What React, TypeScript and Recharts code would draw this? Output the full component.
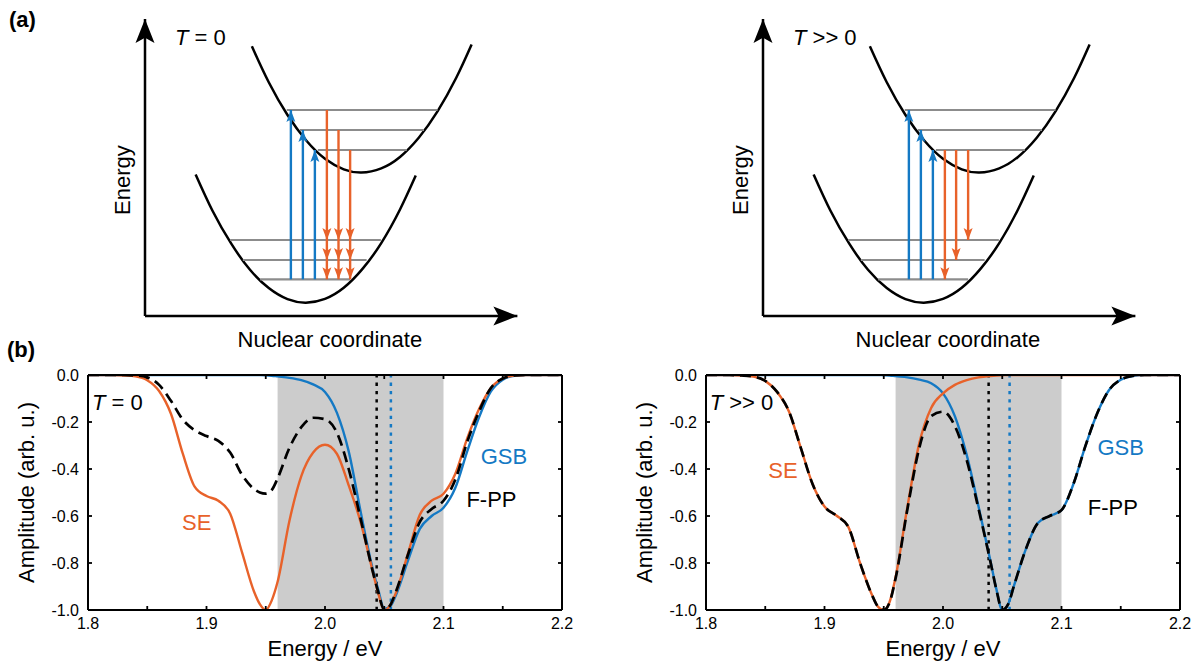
import React from 'react';
import {
  ComposedChart,
  Line,
  XAxis,
  YAxis,
  ReferenceArea,
  ReferenceLine,
  ReferenceDot,
  Label,
} from 'recharts';

const FONT = '"Liberation Sans", Arial, Helvetica, sans-serif';
const ORANGE = '#E8622A';
const BLUE = '#1479C4';
const BAND_GRAY = '#CCCCCC';
const LEVEL_GRAY = '#8C8C8C';

// ---------------- Panel (b): spectra ----------------
const energies = [
  1.8, 1.81, 1.82, 1.83, 1.84, 1.85, 1.86, 1.87, 1.88, 1.89, 1.9, 1.91, 1.92, 1.93, 1.94,
  1.945, 1.95, 1.955, 1.96, 1.97, 1.98, 1.99, 2.0, 2.01, 2.02, 2.03, 2.04, 2.045, 2.05, 2.055,
  2.06, 2.07, 2.08, 2.09, 2.1, 2.11, 2.12, 2.13, 2.14, 2.15, 2.16, 2.17, 2.18, 2.19, 2.2,
];

const seT0 = [
  0, 0, 0, -0.002, -0.006, -0.022, -0.068, -0.165, -0.335, -0.475, -0.515, -0.535, -0.59, -0.755, -0.92,
  -0.975, -1.0, -0.96, -0.88, -0.62, -0.43, -0.33, -0.297, -0.335, -0.47, -0.625, -0.83, -0.93, -1.0, -0.98,
  -0.925, -0.76, -0.595, -0.535, -0.505, -0.42, -0.27, -0.145, -0.055, -0.015, -0.002, 0, 0, 0, 0,
];
const gsbT0 = [
  0, 0, 0, 0, 0, 0, 0, 0, 0, 0, 0, 0, 0, 0, 0,
  0, -0.001, -0.003, -0.006, -0.012, -0.022, -0.04, -0.072, -0.16, -0.325, -0.58, -0.82, -0.915, -0.995, -0.985,
  -0.935, -0.79, -0.655, -0.6, -0.565, -0.48, -0.325, -0.18, -0.07, -0.02, -0.003, 0, 0, 0, 0,
];
const fppT0 = [
  0, 0, 0, 0, -0.002, -0.01, -0.042, -0.11, -0.19, -0.235, -0.26, -0.28, -0.33, -0.425, -0.485,
  -0.5, -0.505, -0.49, -0.44, -0.31, -0.222, -0.182, -0.188, -0.245, -0.4, -0.61, -0.83, -0.925, -1.0, -0.98,
  -0.92, -0.765, -0.625, -0.57, -0.535, -0.445, -0.285, -0.155, -0.055, -0.015, -0.002, 0, 0, 0, 0,
];

const seTh = [
  0, 0, 0, -0.002, -0.007, -0.025, -0.072, -0.155, -0.31, -0.465, -0.56, -0.598, -0.645, -0.8, -0.935,
  -0.985, -1.0, -0.965, -0.86, -0.56, -0.29, -0.14, -0.078, -0.042, -0.022, -0.01, -0.004, -0.002, -0.001, 0,
  0, 0, 0, 0, 0, 0, 0, 0, 0, 0, 0, 0, 0, 0, 0,
];
const gsbTh = [
  0, 0, 0, 0, 0, 0, 0, 0, 0, 0, 0, 0, 0, 0, 0,
  0, -0.001, -0.002, -0.005, -0.01, -0.02, -0.035, -0.078, -0.175, -0.34, -0.56, -0.79, -0.91, -1.0, -0.975,
  -0.895, -0.74, -0.63, -0.6, -0.575, -0.465, -0.305, -0.165, -0.065, -0.02, -0.004, 0, 0, 0, 0,
];
const fppTh = [
  0, 0, 0, -0.002, -0.007, -0.025, -0.072, -0.155, -0.31, -0.465, -0.56, -0.598, -0.645, -0.8, -0.935,
  -0.985, -1.0, -0.967, -0.865, -0.57, -0.31, -0.175, -0.156, -0.217, -0.362, -0.57, -0.794, -0.912, -1.0, -0.975,
  -0.895, -0.74, -0.63, -0.6, -0.575, -0.465, -0.305, -0.165, -0.065, -0.02, -0.004, 0, 0, 0, 0,
];

const xLabelTicks = [1.8, 1.9, 2.0, 2.1, 2.2];
const xFrameTicks = [1.8, 1.85, 1.9, 1.95, 2.0, 2.05, 2.1, 2.15, 2.2];
const yTicks = [0, -0.2, -0.4, -0.6, -0.8, -1.0];
const bandRange = [1.96, 2.1];
const dottedT0 = [2.0436, 2.0556]; // [F-PP peak (black), GSB peak (blue)]
const dottedTh = [2.0385, 2.0562];

// annotation anchors [energy, amplitude] (text baseline)
const annT0 = { temp: [1.8034, -0.149], se: [1.8917, -0.658], gsb: [2.151, -0.379], fpp: [2.1405, -0.562] };
const annTh = { temp: [1.8031, -0.149], se: [1.865, -0.438], gsb: [2.1499, -0.34], fpp: [2.1434, -0.596] };

// ---------------- Panel (a): potential-energy diagrams ----------------
const upperWellX = [2.85, 3.3, 3.8, 4.3, 4.8, 5.3, 5.77, 6.3, 6.8, 7.3, 7.8, 8.3, 8.71];
const upperWellY = [8.99, 7.79, 6.7, 5.85, 5.24, 4.89, 4.78, 4.92, 5.3, 5.94, 6.82, 7.94, 9.05];
const lowerWellX = [1.35, 1.8, 2.3, 2.8, 3.3, 3.8, 4.29, 4.8, 5.3, 5.8, 6.3, 6.8, 7.22];
const lowerWellY = [4.72, 3.51, 2.41, 1.54, 0.93, 0.56, 0.443, 0.57, 0.94, 1.57, 2.43, 3.55, 4.68];

const upperLevelE = [6.867, 6.2, 5.533];
const upperLevelFrom = [3.78, 4.13, 4.61];
const upperLevelTo = [7.8, 7.44, 6.98];
const lowerLevelE = [2.533, 1.867, 1.223];
const lowerLevelFrom = [2.27, 2.61, 3.07];
const lowerLevelTo = [6.29, 5.91, 5.47];

const absorptionX = [3.89, 4.21, 4.53];
const emissionXT0 = [4.85, 5.16, 5.47];
const emissionXTh = [4.85, 5.15, 5.47];

const energyAxisTop = 9.9;
const coordAxisEnd = 9.93;

// ---------------- helpers ----------------
type Pt = { x: number; y: number; head?: string };

function headPoints(cx: number, cy: number, dir: string, len: number, wid: number) {
  const n = len * 0.22;
  const h = wid / 2;
  let pts: number[][];
  if (dir === 'up') pts = [[cx, cy], [cx + h, cy + len], [cx, cy + len - n], [cx - h, cy + len]];
  else if (dir === 'down') pts = [[cx, cy], [cx + h, cy - len], [cx, cy - len + n], [cx - h, cy - len]];
  else pts = [[cx, cy], [cx - len, cy - h], [cx - len + n, cy], [cx - len, cy + h]];
  return pts.map((p) => p.join(',')).join(' ');
}

function headDot(color: string, len: number, wid: number) {
  return (p: any) => {
    const k = `hd-${p.index}-${p.cx}-${p.cy}`;
    if (!p.payload || !p.payload.head || p.cx == null || p.cy == null) return <g key={k} />;
    return <polygon key={k} points={headPoints(p.cx, p.cy, p.payload.head, len, wid)} fill={color} stroke="none" />;
  };
}

function seg(key: string, data: Pt[], color: string, width: number, heads?: { len: number; wid: number }) {
  return (
    <Line
      key={key}
      data={data}
      dataKey="y"
      type="linear"
      stroke={color}
      strokeWidth={width}
      dot={heads ? headDot(color, heads.len, heads.wid) : false}
      activeDot={false}
      isAnimationActive={false}
    />
  );
}

function textDot(
  key: string,
  x: number,
  y: number,
  content: React.ReactNode,
  opts: { color?: string; size?: number; anchor?: string; rotate?: boolean; baseline?: string; xId?: string; yId?: string }
) {
  const extra: any = {};
  if (opts.xId) extra.xAxisId = opts.xId;
  if (opts.yId) extra.yAxisId = opts.yId;
  return (
    <ReferenceDot
      key={key}
      {...extra}
      x={x}
      y={y}
      r={0}
      ifOverflow="visible"
      fill="none"
      stroke="none"
      shape={(p: any) => (
        <text
          x={p.cx}
          y={p.cy}
          textAnchor={opts.anchor || 'middle'}
          dominantBaseline={opts.baseline || 'auto'}
          fill={opts.color || '#000'}
          fontSize={opts.size || 22}
          fontFamily={FONT}
          transform={opts.rotate ? `rotate(-90 ${p.cx} ${p.cy})` : undefined}
        >
          {content}
        </text>
      )}
    />
  );
}

// ---------------- Diagram ----------------
function Diagram({ left, tempLabel, emission }: { left: number; tempLabel: string; emission: 'T0' | 'Th' }) {
  const upper = upperWellX.map((x, i) => ({ x, y: upperWellY[i] }));
  const lower = lowerWellX.map((x, i) => ({ x, y: lowerWellY[i] }));
  const lines: React.ReactNode[] = [];

  upperLevelE.forEach((e, i) =>
    lines.push(seg(`ul${i}`, [{ x: upperLevelFrom[i], y: e }, { x: upperLevelTo[i], y: e }], LEVEL_GRAY, 2.2))
  );
  lowerLevelE.forEach((e, i) =>
    lines.push(seg(`ll${i}`, [{ x: lowerLevelFrom[i], y: e }, { x: lowerLevelTo[i], y: e }], LEVEL_GRAY, 2.2))
  );

  absorptionX.forEach((x, i) =>
    lines.push(
      seg(`ab${i}`, [{ x, y: lowerLevelE[2] }, { x, y: upperLevelE[i], head: 'up' }], BLUE, 2.4, { len: 12, wid: 9 })
    )
  );

  if (emission === 'T0') {
    emissionXT0.forEach((x, i) =>
      lines.push(
        seg(
          `em${i}`,
          [
            { x, y: upperLevelE[i] },
            { x, y: lowerLevelE[0], head: 'down' },
            { x, y: lowerLevelE[1], head: 'down' },
            { x, y: lowerLevelE[2], head: 'down' },
          ],
          ORANGE,
          2.4,
          { len: 12, wid: 9 }
        )
      )
    );
  } else {
    emissionXTh.forEach((x, i) =>
      lines.push(
        seg(`em${i}`, [{ x, y: upperLevelE[2] }, { x, y: lowerLevelE[2 - i], head: 'down' }], ORANGE, 2.4, {
          len: 12,
          wid: 9,
        })
      )
    );
  }

  return (
    <div style={{ position: 'absolute', left, top: 0, width: 450, height: 360 }}>
      <ComposedChart width={450} height={360} margin={{ top: 16, right: 25, bottom: 44, left: 50 }}>
        <XAxis dataKey="x" type="number" domain={[0, 10]} hide />
        <YAxis type="number" domain={[0, 10]} hide />
        <Line data={upper} dataKey="y" type="natural" stroke="#000" strokeWidth={2.5} dot={false} activeDot={false} isAnimationActive={false} />
        <Line data={lower} dataKey="y" type="natural" stroke="#000" strokeWidth={2.5} dot={false} activeDot={false} isAnimationActive={false} />
        {lines}
        {seg('yaxis', [{ x: 0, y: 0 }, { x: 0, y: energyAxisTop, head: 'up' }], '#000', 2.5, { len: 24, wid: 19 })}
        {seg('xaxis', [{ x: 0, y: 0 }, { x: coordAxisEnd, y: 0, head: 'right' }], '#000', 2.5, { len: 24, wid: 19 })}
        {textDot(
          'temp',
          0.8,
          9.03,
          <>
            <tspan fontStyle="italic">T</tspan>
            {tempLabel}
          </>,
          { anchor: 'start' }
        )}
        {textDot('ylab', -0.61, 4.53, 'Energy', { rotate: true, baseline: 'central' })}
        {textDot('xlab', 4.93, -0.77, 'Nuclear coordinate', { baseline: 'central' })}
      </ComposedChart>
    </div>
  );
}

// ---------------- Spectrum ----------------
function Spectrum({
  left,
  width,
  se,
  gsb,
  fpp,
  dotted,
  ann,
  tempLabel,
}: {
  left: number;
  width: number;
  se: number[];
  gsb: number[];
  fpp: number[];
  dotted: number[];
  ann: any;
  tempLabel: string;
}) {
  const rows = energies.map((e, i) => ({ e, se: se[i], gsb: gsb[i], fpp: fpp[i] }));
  const frameLine = { stroke: '#000', strokeWidth: 2 };
  const frameTick = { stroke: '#000', strokeWidth: 1.8 };
  const hiddenTick = { fill: 'none', fontSize: 1 };
  const tickFont = { fill: '#000', fontSize: 16, fontFamily: FONT };
  const ids = { xId: 'lab', yId: 'lab' };
  return (
    <div style={{ position: 'absolute', left, top: 360, width, height: 301 }}>
      <ComposedChart width={width} height={301} data={rows} margin={{ top: 15, right: width - 88 - 474, bottom: 0, left: 0 }}>
        <XAxis
          xAxisId="lab"
          dataKey="e"
          type="number"
          domain={[1.8, 2.2]}
          allowDataOverflow
          ticks={xLabelTicks}
          interval={0}
          tickFormatter={(v: number) => v.toFixed(1)}
          axisLine={false}
          tickLine={false}
          tickSize={0}
          tickMargin={8}
          height={51}
          tick={tickFont}
        >
          <Label value="Energy / eV" position="insideBottom" offset={5} style={{ fontSize: 22, fontFamily: FONT, fill: '#000' }} />
        </XAxis>
        <XAxis xAxisId="fb" orientation="bottom" mirror dataKey="e" type="number" domain={[1.8, 2.2]} allowDataOverflow ticks={xFrameTicks} interval={0} tick={hiddenTick} tickSize={4} axisLine={frameLine} tickLine={frameTick} />
        <XAxis xAxisId="ft" orientation="top" mirror dataKey="e" type="number" domain={[1.8, 2.2]} allowDataOverflow ticks={xFrameTicks} interval={0} tick={hiddenTick} tickSize={4} axisLine={frameLine} tickLine={frameTick} />
        <YAxis
          yAxisId="lab"
          type="number"
          domain={[-1, 0]}
          allowDataOverflow
          ticks={yTicks}
          interval={0}
          tickFormatter={(v: number) => v.toFixed(1)}
          axisLine={false}
          tickLine={false}
          tickSize={0}
          tickMargin={9}
          width={88}
          tick={tickFont}
        >
          <Label
            value="Amplitude (arb. u.)"
            angle={-90}
            position="insideLeft"
            offset={26}
            style={{ fontSize: 22, fontFamily: FONT, fill: '#000', textAnchor: 'middle' }}
          />
        </YAxis>
        <YAxis yAxisId="fl" orientation="left" mirror type="number" domain={[-1, 0]} allowDataOverflow ticks={yTicks} interval={0} tick={hiddenTick} tickSize={4} axisLine={frameLine} tickLine={frameTick} />
        <YAxis yAxisId="fr" orientation="right" mirror type="number" domain={[-1, 0]} allowDataOverflow ticks={yTicks} interval={0} tick={hiddenTick} tickSize={4} axisLine={frameLine} tickLine={frameTick} />

        <ReferenceArea xAxisId="lab" yAxisId="lab" x1={bandRange[0]} x2={bandRange[1]} fill={BAND_GRAY} fillOpacity={1} stroke="none" />
        <ReferenceLine xAxisId="lab" yAxisId="lab" x={dotted[0]} stroke="#000" strokeWidth={2.5} strokeDasharray="3.3 5" />
        <ReferenceLine xAxisId="lab" yAxisId="lab" x={dotted[1]} stroke={BLUE} strokeWidth={2.5} strokeDasharray="3.3 5" />

        <Line xAxisId="lab" yAxisId="lab" dataKey="gsb" type="monotone" stroke={BLUE} strokeWidth={2.4} dot={false} activeDot={false} isAnimationActive={false} />
        <Line xAxisId="lab" yAxisId="lab" dataKey="se" type="monotone" stroke={ORANGE} strokeWidth={2.4} dot={false} activeDot={false} isAnimationActive={false} />
        <Line xAxisId="lab" yAxisId="lab" dataKey="fpp" type="monotone" stroke="#000" strokeWidth={2.7} strokeDasharray="11 6" dot={false} activeDot={false} isAnimationActive={false} />

        {textDot(
          'temp',
          ann.temp[0],
          ann.temp[1],
          <>
            <tspan fontStyle="italic">T</tspan>
            {tempLabel}
          </>,
          { anchor: 'start', ...ids }
        )}
        {textDot('se', ann.se[0], ann.se[1], 'SE', { color: ORANGE, ...ids })}
        {textDot('gsb', ann.gsb[0], ann.gsb[1], 'GSB', { color: BLUE, ...ids })}
        {textDot('fpp', ann.fpp[0], ann.fpp[1], 'F-PP', { color: '#000', ...ids })}
      </ComposedChart>
    </div>
  );
}

const panelLabel: React.CSSProperties = {
  position: 'absolute',
  fontFamily: FONT,
  fontWeight: 'bold',
  fontSize: 22,
  lineHeight: '22px',
  color: '#000',
};

export default function App() {
  return (
    <div
      style={{
        position: 'absolute',
        left: 0,
        top: 0,
        width: 1196,
        height: 661,
        background: '#fff',
        overflow: 'hidden',
        fontFamily: FONT,
      }}
    >
      <Diagram left={95} tempLabel=" = 0" emission="T0" />
      <Diagram left={713} tempLabel=" >> 0" emission="Th" />
      <Spectrum left={0} width={600} se={seT0} gsb={gsbT0} fpp={fppT0} dotted={dottedT0} ann={annT0} tempLabel=" = 0" />
      <Spectrum left={618} width={578} se={seTh} gsb={gsbTh} fpp={fppTh} dotted={dottedTh} ann={annTh} tempLabel=" >> 0" />
      <div style={{ ...panelLabel, left: 9, top: 9 }}>(a)</div>
      <div style={{ ...panelLabel, left: 7, top: 339 }}>(b)</div>
    </div>
  );
}
